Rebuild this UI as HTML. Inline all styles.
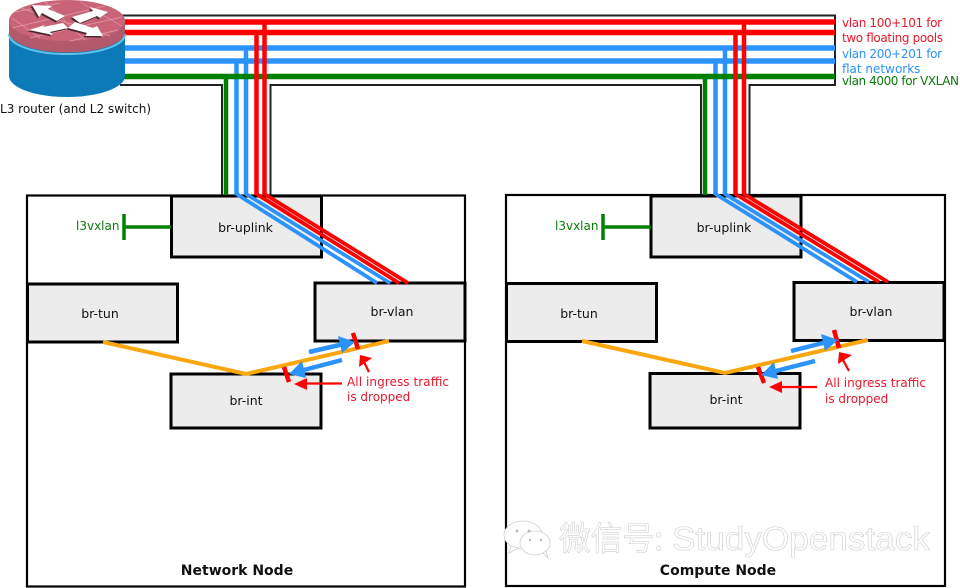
<!DOCTYPE html>
<html><head><meta charset="utf-8"><style>
html,body{margin:0;padding:0;background:#fff}
svg{display:block}
text{font-family:"DejaVu Sans","Liberation Sans",sans-serif;font-size:12px}
</style></head><body>
<svg width="960" height="588" viewBox="0 0 960 588" xmlns="http://www.w3.org/2000/svg">
<rect width="960" height="588" fill="#fff"/>

<!-- node frames -->
<rect x="27" y="195.500" width="438" height="391" fill="#fff" stroke="#000" stroke-width="2.200"/>
<rect x="506" y="195" width="439" height="391" fill="#fff" stroke="#000" stroke-width="2.200"/>

<!-- trunk outline -->
<path d="M120,15.500H835V85H749.500V195M701,195V85H270.500V195M222,195V85H120" fill="none" stroke="#222" stroke-width="2"/>

<!-- boxes -->
<g fill="#ececec" stroke="#000" stroke-width="3">
<rect x="171.500" y="196" width="150" height="61"/>
<rect x="27.500" y="284" width="150" height="58"/>
<rect x="315" y="283" width="150" height="58"/>
<rect x="171" y="374" width="150" height="54"/>
<rect x="651" y="196" width="150" height="61"/>
<rect x="506.500" y="283.500" width="150" height="58"/>
<rect x="794" y="282.500" width="150" height="58"/>
<rect x="650" y="373.500" width="150" height="54.500"/>
</g>

<!-- vlan lines -->
<g fill="none" stroke-width="4.500">
<path d="M226,76V195" stroke="#008000"/>
<path d="M705,76V195" stroke="#008000"/>
<path d="M236.500,61V195" stroke="#2b93fb"/>
<path d="M246,48V195" stroke="#2b93fb"/>
<path d="M715.500,61V195" stroke="#2b93fb"/>
<path d="M725,48V195" stroke="#2b93fb"/>
</g>
<g fill="none" stroke-width="3.800" stroke="#2b93fb">
<path d="M236.500,194L377,283"/>
<path d="M246,194L390,283"/>
<path d="M715.500,194L857,282"/>
<path d="M725,194L869,282"/>
</g>
<g fill="none" stroke-width="5.500">
<path d="M122,48H835" stroke="#2b93fb"/>
<path d="M122,61H835" stroke="#2b93fb"/>
<path d="M122,76.500H835" stroke="#008000"/>
</g>
<g fill="none" stroke-width="4.500" stroke="#f00">
<path d="M256.500,33V195"/>
<path d="M264.500,22V195"/>
<path d="M735.500,33V195"/>
<path d="M744,22V195"/>
</g>
<g fill="none" stroke-width="3.800" stroke="#f00">
<path d="M256.500,194L399,283"/>
<path d="M264.500,194L408,283"/>
<path d="M735.500,194L879,282"/>
<path d="M744,194L888,282"/>
</g>
<g fill="none" stroke-width="5.500" stroke="#f00">
<path d="M122,22H835"/>
<path d="M122,32.500H835"/>
</g>

<!-- l3vxlan stubs -->
<g stroke="#008000" stroke-width="3.500" fill="none">
<path d="M171,227H124M124,214V240"/>
<path d="M651,227H603M603,214V240"/>
</g>

<!-- orange links -->
<g stroke="#f9a60f" stroke-width="4" fill="none">
<path d="M103,342L246,374L389,341"/>
<path d="M582,341L725,373L868,340"/>
</g>

<!-- drop ticks -->
<g stroke="#f00" stroke-width="4.500" fill="none">
<path d="M353,333L358,349M284,367L289,382"/>
<path d="M834,330L839,348M758,367L764,383"/>
</g>

<!-- blue arrows -->
<g fill="#2b93fb" stroke="#2b93fb" stroke-width="4.500">
<path d="M309,352L344,344" fill="none"/>
<path d="M355,342L338,336L342,353z" stroke="none"/>
<path d="M342,360L300,371" fill="none"/>
<path d="M289,374L302,361L306,378z" stroke="none"/>
<path d="M791,351L827,342" fill="none"/>
<path d="M838,340L821,334L825,351z" stroke="none"/>
<path d="M815,361L772,372" fill="none"/>
<path d="M761,375L774,362L778,379z" stroke="none"/>
</g>

<!-- red arrows -->
<g fill="#f00" stroke="#f00" stroke-width="2.200">
<path d="M369,372L364,362" fill="none"/>
<path d="M360,355L372,358L359,367z" stroke="none"/>
<path d="M342,383.500H303" fill="none"/>
<path d="M294,384L307,378L307,390z" stroke="none"/>
<path d="M849,371L843,360" fill="none"/>
<path d="M839,352L852,355L838,364z" stroke="none"/>
<path d="M817,387H778" fill="none"/>
<path d="M769,387L782,381L782,393z" stroke="none"/>
</g>

<!-- router -->
<path d="M9,32V76A58,21 0 0 0 125,76V32z" fill="#0c7ab8"/>
<path d="M9,34A58,20 0 0 0 125,34" fill="none" stroke="#5fc3ea" stroke-width="2"/>
<path d="M9,20V32A58,20.500 0 0 0 125,32V20z" fill="#b25a6c"/>
<ellipse cx="67" cy="20.500" rx="58" ry="20.500" fill="#c96478"/>
<g stroke="#e59aa8" stroke-width=".7" fill="none">
<path d="M15,12L60,3M12,28L105,6M30,38L122,17M70,41L118,30M20,8L110,36M45,2L85,40M12,18L40,38M80,2L122,26"/>
</g>
<g fill="#4a2a32" transform="translate(-1.500,1.500)">
<path d="M32,5L52,6L48,9L65,16L57,21L42,13L39,17z"/>
<path d="M108,12L90,7L93,11L72,17L80,23L97,16L100,18z"/>
<path d="M29,30L45,25L43,27L63,23L68,28L50,32L53,35z"/>
<path d="M103,36L85,36L87,33L68,28L75,22L93,28L97,26z"/>
</g>
<g fill="#fff">
<path d="M32,5L52,6L48,9L65,16L57,21L42,13L39,17z"/>
<path d="M108,12L90,7L93,11L72,17L80,23L97,16L100,18z"/>
<path d="M29,30L45,25L43,27L63,23L68,28L50,32L53,35z"/>
<path d="M103,36L85,36L87,33L68,28L75,22L93,28L97,26z"/>
</g>

<!-- watermark -->
<g fill="#fff" stroke="#cfcfcf" stroke-width=".8">
<ellipse cx="523" cy="535" rx="19" ry="14"/>
<path d="M511,546L509,553L519,548z"/>
<ellipse cx="535" cy="543" rx="15" ry="12"/>
<path d="M543,553L548,558L546,551z"/>
</g>
<g fill="#bbb"><circle cx="517" cy="531" r="1.500"/><circle cx="529" cy="531" r="1.500"/><circle cx="530" cy="540" r="1.200"/><circle cx="541" cy="540" r="1.200"/></g>
<text x="559" y="550" textLength="104" lengthAdjust="spacingAndGlyphs" style="font-family:'WenQuanYi Zen Hei','Noto Sans CJK SC',sans-serif;font-size:33px" fill="#fff" stroke="#cfcfcf" stroke-width=".6">微信号:</text>
<text x="672" y="550" textLength="258" lengthAdjust="spacingAndGlyphs" style="font-family:'Liberation Sans',sans-serif;font-size:33px" fill="#fff" stroke="#cfcfcf" stroke-width=".6">StudyOpenstack</text>

<!-- labels -->
<g fill="#111">
<text x="0" y="113" textLength="151">L3 router (and L2 switch)</text>
<text x="245.500" y="232" text-anchor="middle" style="font-size:12.500px">br-uplink</text>
<text x="100" y="318" text-anchor="middle" style="font-size:12.500px">br-tun</text>
<text x="392" y="316" text-anchor="middle" style="font-size:12.500px">br-vlan</text>
<text x="246" y="405" text-anchor="middle" style="font-size:12.500px">br-int</text>
<text x="724" y="232" text-anchor="middle" style="font-size:12.500px">br-uplink</text>
<text x="579" y="318" text-anchor="middle" style="font-size:12.500px">br-tun</text>
<text x="871" y="316" text-anchor="middle" style="font-size:12.500px">br-vlan</text>
<text x="726" y="404" text-anchor="middle" style="font-size:12.500px">br-int</text>
<text x="237" y="575" text-anchor="middle" style="font-size:14px;font-weight:bold">Network Node</text>
<text x="718" y="575" text-anchor="middle" style="font-size:14px;font-weight:bold">Compute Node</text>
</g>
<text x="842" y="27" textLength="100" fill="#e8182c">vlan 100+101 for</text>
<text x="842" y="42" textLength="101" fill="#e8182c">two floating pools</text>
<text x="347" y="386" textLength="102" fill="#e8182c">All ingress traffic</text>
<text x="347" y="401" fill="#e8182c">is dropped</text>
<text x="825" y="387" textLength="101" fill="#e8182c">All ingress traffic</text>
<text x="825" y="403" fill="#e8182c">is dropped</text>
<text x="842" y="58" textLength="100" fill="#2b93fb">vlan 200+201 for</text>
<text x="842" y="73" fill="#2b93fb">flat networks</text>
<text x="842" y="85" textLength="117" fill="#0a7a0a">vlan 4000 for VXLAN</text>
<text x="76" y="230" fill="#0a7a0a">l3vxlan</text>
<text x="555" y="230" fill="#0a7a0a">l3vxlan</text>
</svg>
</body></html>
